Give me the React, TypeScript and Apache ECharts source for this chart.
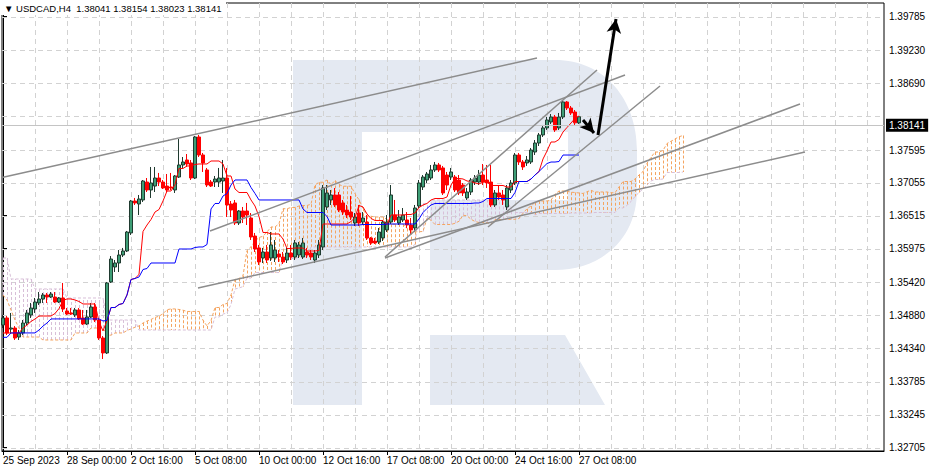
import React, { useEffect, useRef } from "react";
import * as echarts from "echarts";

// [open, close, low, high] per H4 bar, bar 0 = 25 Sep 2023 08:00
const candles: number[][] = [
  [1.3472, 1.34836, 1.34671, 1.34885], [1.34836, 1.34589, 1.34556, 1.34868], [1.34654, 1.34671, 1.34589, 1.34918],
  [1.34671, 1.34507, 1.34474, 1.34703], [1.34523, 1.34589, 1.34474, 1.34638], [1.34589, 1.34753, 1.34556, 1.34802],
  [1.34753, 1.34918, 1.3472, 1.34967], [1.34885, 1.35, 1.34836, 1.35082], [1.34983, 1.35098, 1.34918, 1.35164],
  [1.35082, 1.35147, 1.35049, 1.35262], [1.35147, 1.35213, 1.35082, 1.35246], [1.35213, 1.3518, 1.35082, 1.35246],
  [1.3518, 1.35229, 1.35164, 1.35262], [1.3518, 1.35098, 1.35082, 1.35262], [1.35098, 1.35164, 1.35082, 1.3518],
  [1.35164, 1.34983, 1.34934, 1.35411], [1.34951, 1.34901, 1.34885, 1.35], [1.34918, 1.34901, 1.34885, 1.35],
  [1.34885, 1.34967, 1.34852, 1.35], [1.34967, 1.34819, 1.34802, 1.35], [1.34836, 1.34736, 1.3472, 1.34967],
  [1.34736, 1.34852, 1.3472, 1.34967], [1.34852, 1.35016, 1.34836, 1.35082], [1.35016, 1.34802, 1.34769, 1.35082],
  [1.34802, 1.34507, 1.34474, 1.34836], [1.34507, 1.34261, 1.34162, 1.34539], [1.34261, 1.35411, 1.34244, 1.35427],
  [1.35427, 1.35804, 1.35411, 1.35853], [1.35673, 1.35739, 1.35591, 1.35788], [1.35739, 1.3587, 1.35591, 1.35952],
  [1.3587, 1.35936, 1.35837, 1.35986], [1.35936, 1.36248, 1.35919, 1.36265], [1.36232, 1.36757, 1.36199, 1.36774],
  [1.36757, 1.36725, 1.36692, 1.36807], [1.36708, 1.3679, 1.36527, 1.36856], [1.36774, 1.37086, 1.36741, 1.37102],
  [1.37069, 1.36938, 1.36905, 1.37135], [1.36938, 1.37053, 1.36807, 1.37316], [1.37003, 1.37135, 1.36905, 1.37316],
  [1.37135, 1.37069, 1.37003, 1.37218], [1.37069, 1.36971, 1.36954, 1.37102], [1.37003, 1.36938, 1.36905, 1.37201],
  [1.36987, 1.36971, 1.36938, 1.37218], [1.36938, 1.37168, 1.36889, 1.37184], [1.37151, 1.37349, 1.37135, 1.37776],
  [1.37349, 1.37398, 1.373, 1.3748], [1.37431, 1.37365, 1.37316, 1.37529], [1.37382, 1.37135, 1.37102, 1.37431],
  [1.37135, 1.37809, 1.37118, 1.37825], [1.37809, 1.37513, 1.3748, 1.37842], [1.37513, 1.37382, 1.37234, 1.37546],
  [1.37267, 1.3702, 1.36987, 1.373], [1.37069, 1.37003, 1.36987, 1.37102], [1.37069, 1.37118, 1.36987, 1.37168],
  [1.37069, 1.37135, 1.36987, 1.373], [1.37086, 1.37135, 1.36889, 1.37431], [1.37135, 1.36692, 1.36494, 1.373],
  [1.36708, 1.36609, 1.36494, 1.36757], [1.36725, 1.36396, 1.36363, 1.36774], [1.36396, 1.36593, 1.36363, 1.36609],
  [1.36593, 1.36494, 1.36396, 1.36659], [1.36593, 1.36527, 1.36363, 1.36725], [1.36478, 1.36166, 1.36117, 1.3656],
  [1.36182, 1.35969, 1.35919, 1.36232], [1.35986, 1.35755, 1.35706, 1.36035], [1.35821, 1.35919, 1.35739, 1.35986],
  [1.35919, 1.35788, 1.35739, 1.36035], [1.35821, 1.36035, 1.35772, 1.36248], [1.35821, 1.35952, 1.35755, 1.36117],
  [1.35886, 1.35837, 1.35755, 1.35952], [1.35837, 1.35755, 1.35722, 1.35919], [1.35788, 1.35903, 1.35739, 1.35986],
  [1.35903, 1.35837, 1.35788, 1.36035], [1.35837, 1.36068, 1.35788, 1.36117], [1.3587, 1.36035, 1.35821, 1.36084],
  [1.35837, 1.36068, 1.35804, 1.3615], [1.35919, 1.3587, 1.35821, 1.35986], [1.35903, 1.35837, 1.35788, 1.35952],
  [1.35788, 1.35903, 1.35739, 1.35952], [1.3587, 1.36035, 1.35821, 1.36117], [1.36002, 1.36971, 1.35952, 1.3702],
  [1.36659, 1.36889, 1.36609, 1.3702], [1.36774, 1.36856, 1.36692, 1.36938], [1.36856, 1.36692, 1.36659, 1.36971],
  [1.36856, 1.36609, 1.36576, 1.36905], [1.36725, 1.36576, 1.36527, 1.36774], [1.36609, 1.36527, 1.36478, 1.36692],
  [1.36576, 1.36494, 1.36445, 1.3684], [1.36396, 1.36494, 1.36347, 1.3656], [1.3656, 1.36396, 1.36347, 1.36692],
  [1.36412, 1.36478, 1.36363, 1.36576], [1.36412, 1.3615, 1.36117, 1.36527], [1.3615, 1.36068, 1.36035, 1.36166],
  [1.361, 1.36068, 1.36051, 1.3615], [1.36084, 1.36248, 1.36051, 1.36314], [1.3615, 1.36412, 1.361, 1.36445],
  [1.36281, 1.36412, 1.36248, 1.36527], [1.36412, 1.36856, 1.3638, 1.3702], [1.36527, 1.36445, 1.36412, 1.36774],
  [1.36396, 1.36494, 1.36363, 1.36609], [1.36445, 1.36527, 1.36412, 1.36642], [1.36445, 1.36363, 1.36314, 1.36576],
  [1.36363, 1.36281, 1.36199, 1.36478], [1.36314, 1.36642, 1.36248, 1.36692], [1.36675, 1.37053, 1.36642, 1.37102],
  [1.36987, 1.37151, 1.36938, 1.37184], [1.37102, 1.37201, 1.37053, 1.37234], [1.37135, 1.37267, 1.37102, 1.37349],
  [1.37267, 1.37349, 1.37234, 1.37398], [1.37349, 1.37267, 1.37234, 1.37382], [1.373, 1.36889, 1.36856, 1.37333],
  [1.37184, 1.3702, 1.36938, 1.37234], [1.37151, 1.37234, 1.37102, 1.373], [1.37151, 1.36938, 1.36905, 1.37184],
  [1.37102, 1.36889, 1.36856, 1.37184], [1.3702, 1.36889, 1.3684, 1.37053], [1.36807, 1.36905, 1.36774, 1.36971],
  [1.36905, 1.37102, 1.36856, 1.37135], [1.37069, 1.37135, 1.3702, 1.37184], [1.37069, 1.37184, 1.3702, 1.37267],
  [1.37184, 1.37069, 1.3702, 1.37365], [1.37102, 1.37053, 1.36971, 1.37349], [1.37069, 1.36692, 1.36659, 1.37349],
  [1.36692, 1.36889, 1.36659, 1.36938], [1.36889, 1.36823, 1.36774, 1.3702], [1.36856, 1.36774, 1.36692, 1.36938],
  [1.36659, 1.36971, 1.36609, 1.3702], [1.36938, 1.37053, 1.36889, 1.37102], [1.37053, 1.37513, 1.3702, 1.37546],
  [1.37513, 1.37398, 1.37349, 1.37546], [1.37398, 1.37316, 1.37267, 1.37431], [1.37382, 1.37431, 1.37333, 1.37496],
  [1.37398, 1.37595, 1.37365, 1.37628], [1.37562, 1.3771, 1.37513, 1.37759], [1.3771, 1.37842, 1.37661, 1.37875],
  [1.37842, 1.37957, 1.37809, 1.38006], [1.37957, 1.38088, 1.37924, 1.38137], [1.38055, 1.38137, 1.38022, 1.38186],
  [1.38137, 1.37924, 1.37891, 1.3817], [1.37957, 1.38137, 1.37924, 1.38203], [1.38137, 1.38384, 1.38104, 1.38416],
  [1.38384, 1.38285, 1.38252, 1.384], [1.38285, 1.38203, 1.3817, 1.38318], [1.38219, 1.38041, 1.38006, 1.38252],
  [1.38041, 1.38141, 1.38023, 1.38154],
];

const tenkanHead = [1.34589, 1.34589, 1.34589, 1.34589, 1.34589, 1.34671, 1.3472, 1.34778];
const kijunHeadRuns: [number, number][] = [[2, 1.34518], [7, 1.3459], [1, 1.34638], [1, 1.34703], [1, 1.34753], [13, 1.3482]];
const spanAHeadRuns: [number, number][] = [[1, 1.35213], [1, 1.35131], [1, 1.34967], [1, 1.34802], [1, 1.34671], [5, 1.34523], [8, 1.34474], [4, 1.34589], [4, 1.34671]];
const spanBHeadRuns: [number, number][] = [
  [2, 1.35821], [6, 1.35476], [8, 1.35312], [10, 1.35164], [8, 1.34802], [19, 1.34638], [2, 1.34851], [1, 1.349],
  [1, 1.34918], [1, 1.35057], [1, 1.35312], [1, 1.35328], [1, 1.35352], [2, 1.35492], [7, 1.35582], [4, 1.35812], [3, 1.35837],
];

const xTickIdx = [0, 16, 32, 48, 64, 80, 96, 112, 128, 144];
const xTickText = ["25 Sep 2023", "28 Sep 00:00", "2 Oct 16:00", "5 Oct 08:00", "10 Oct 00:00", "12 Oct 16:00", "17 Oct 08:00", "20 Oct 00:00", "24 Oct 16:00", "27 Oct 08:00"];
const xGridIdx = [8, 16, 24, 32, 40, 48, 56, 64, 72, 80, 88, 96, 104, 112, 120, 128, 136, 144, 152, 160, 168, 176, 184, 192, 200, 208, 216];
const yTickValues = [1.39785, 1.3923, 1.3869, 1.37595, 1.37055, 1.36515, 1.35975, 1.3542, 1.3488, 1.3434, 1.33785, 1.33245, 1.32705];
const yGridValues = [1.39785, 1.3923, 1.3869, 1.3815, 1.37595, 1.37055, 1.36515, 1.35975, 1.3542, 1.3488, 1.3434, 1.33785, 1.33245, 1.32705];
const lastPrice = 1.38141;
const titleText = "\u25BC USDCAD,H4  1.38041 1.38154 1.38023 1.38141";

// trend lines: [bar1, price1, bar2, price2]
const trendLines: number[][] = [
  [-0.25, 1.37142, 133.5, 1.39106],
  [51.75, 1.36265, 155.5, 1.38827],
  [121.25, 1.3633, 164.25, 1.38646],
  [48.75, 1.35328, 200.5, 1.37562],
  [95.5, 1.35821, 199.25, 1.38351],
  [95.5, 1.35837, 148.5, 1.38909],
];
const arrows: number[][] = [
  [145, 1.38088, 147.75, 1.37874],
  [148.75, 1.37842, 153.25, 1.39747],
];

const X_MIN = -0.25;
const X_MAX = 220.25;
const Y_MIN = 1.326505;
const Y_MAX = 1.400098;

const R_PATH =
  "M293,60 L555,60 C605,60 637,100 637,150 L637,190 C637,240 600,270 555,270 L430,270 L430,200 L568,200 L568,132 L362,132 L362,405 L293,405 Z " +
  "M430,335 L565,335 L605,405 L430,405 Z";
try {
  echarts.graphic.registerShape("rLogo", (echarts.graphic as any).extendPath(R_PATH, {}));
} catch (e) {}

function expand(runs: [number, number][]): number[] {
  const out: number[] = [];
  runs.forEach(([n, v]) => { for (let k = 0; k < n; k++) out.push(v); });
  return out;
}
function midRange(from: number, to: number): number {
  let h = -Infinity, l = Infinity;
  for (let k = from; k <= to; k++) { h = Math.max(h, candles[k][3]); l = Math.min(l, candles[k][2]); }
  return (h + l) / 2;
}

export default function App() {
  const ref = useRef<HTMLDivElement>(null);
  useEffect(() => {
    if (!ref.current) return;
    const chart = echarts.init(ref.current, null, { renderer: "svg" });
    const n = candles.length;
    const kijunHead = expand(kijunHeadRuns);
    const spanAHead = expand(spanAHeadRuns);
    const spanBHead = expand(spanBHeadRuns);
    const tenkan: number[] = [];
    const kijun: number[] = [];
    for (let i = 0; i < n; i++) {
      tenkan.push(i < 8 ? tenkanHead[i] : midRange(i - 8, i));
      kijun.push(i < 25 ? kijunHead[i] : midRange(i - 25, i));
    }
    const spanA: number[] = [];
    const spanB: number[] = [];
    for (let i = 0; i < n + 26; i++) {
      spanA.push(i < 26 ? spanAHead[i] : (tenkan[i - 26] + kijun[i - 26]) / 2);
      spanB.push(i < 77 ? spanBHead[i] : midRange(i - 77, i - 26));
    }
    const font = "Liberation Sans, Arial, sans-serif";

    const option: any = {
      animation: false,
      backgroundColor: "#ffffff",
      grid: { left: 2, right: 47, top: 3, bottom: 20, show: true, borderColor: "#000", borderWidth: 1, backgroundColor: "transparent", containLabel: false, outerBoundsMode: "none" },
      xAxis: {
        type: "value", min: X_MIN, max: X_MAX, position: "bottom",
        axisLine: { show: true, lineStyle: { color: "#000", width: 1 } },
        axisTick: { show: true, length: 4, customValues: xTickIdx, lineStyle: { color: "#000" } },
        splitLine: { show: false },
        axisLabel: {
          customValues: xTickIdx, align: "left", margin: 4, color: "#000", fontSize: 10, fontFamily: font,
          formatter: (v: number) => { const k = xTickIdx.indexOf(Math.round(v)); return k >= 0 ? xTickText[k] : ""; },
        },
      },
      yAxis: {
        type: "value", min: Y_MIN, max: Y_MAX, position: "right", scale: true,
        axisLine: { show: true, lineStyle: { color: "#000", width: 1 } },
        axisTick: { show: true, length: 4, customValues: yTickValues, lineStyle: { color: "#000" } },
        splitLine: { show: false },
        axisLabel: { customValues: yTickValues, align: "left", margin: 5, color: "#000", fontSize: 10, fontFamily: font, formatter: (v: number) => v.toFixed(5) },
      },
      graphic: [
        { type: "rLogo", x: 0, y: 0, z: -10, silent: true, style: { fill: "#E4E9F2" } },
        { type: "rect", z: 100, silent: true, shape: { x: 0, y: 0, width: 226, height: 15 }, style: { fill: "#fff" } },
        { type: "text", z: 101, silent: true, x: 4, y: 8, style: { text: titleText, fill: "#000", font: `9.5px ${font}`, verticalAlign: "middle" } },
      ],
      series: [
        {
          type: "custom", name: "hgrid", silent: true, clip: false, z: 1,
          data: yGridValues.map((v) => [0, v]), encode: { x: 0, y: 1 },
          renderItem: (params: any, api: any) => {
            const cs = params.coordSys;
            const p = api.coord([0, api.value(1)]);
            const y = Math.round(p[1]) + 0.5;
            return { type: "line", shape: { x1: cs.x, y1: y, x2: cs.x + cs.width, y2: y }, style: { stroke: "#D2D2D2", lineDash: [5, 4], lineWidth: 1 } };
          },
        },
        {
          type: "custom", name: "vgrid", silent: true, clip: false, z: 1,
          data: xGridIdx.map((v) => [v, Y_MIN]), encode: { x: 0, y: 1 },
          renderItem: (params: any, api: any) => {
            const cs = params.coordSys;
            const p = api.coord([api.value(0), Y_MIN]);
            const x = Math.round(p[0]) + 0.5;
            return { type: "line", shape: { x1: x, y1: cs.y, x2: x, y2: cs.y + cs.height }, style: { stroke: "#D2D2D2", lineDash: [5, 4], lineWidth: 1 } };
          },
        },
        {
          type: "custom", name: "kumo", silent: true, clip: true, z: 2,
          data: spanA.map((a, i) => [i, a, spanB[i]]), encode: { x: 0, y: [1, 2] },
          renderItem: (params: any, api: any) => {
            const i = api.value(0), a = api.value(1), b = api.value(2);
            const pa = api.coord([i, a]);
            const pb = api.coord([i, b]);
            const x = Math.round(pa[0]) + 0.5;
            return { type: "line", shape: { x1: x, y1: pa[1], x2: x, y2: pb[1] }, style: { stroke: a >= b ? "#F4A460" : "#D8BFD8", lineDash: [3, 2], lineWidth: 1 } };
          },
        },
        {
          type: "line", name: "Senkou A", silent: true, showSymbol: false, symbol: "none", z: 2,
          data: spanA.map((v, i) => [i, v]), lineStyle: { color: "#F4A460", width: 1, type: [3, 2] },
        },
        {
          type: "line", name: "Senkou B", silent: true, showSymbol: false, symbol: "none", z: 2,
          data: spanB.map((v, i) => [i, v]), lineStyle: { color: "#D8BFD8", width: 1, type: [3, 2] },
        },
        {
          type: "candlestick", name: "USDCAD", silent: true, z: 3, barWidth: 3,
          data: candles.map((c, i) => [i, c[0], c[1], c[2], c[3]]), encode: { x: 0, y: [1, 2, 3, 4] },
          itemStyle: { color: "#3E9E76", color0: "#FF0000", borderColor: "#1F3A2F", borderColor0: "#FF0000", borderWidth: 1 },
          markLine: {
            silent: true, symbol: ["none", "none"], animation: false,
            lineStyle: { color: "#C4C4C4", width: 1, type: "solid" },
            label: { show: true, position: "end", distance: 2, formatter: lastPrice.toFixed(5), color: "#fff", backgroundColor: "#000", padding: [2, 3, 1, 3], fontSize: 10, fontFamily: font },
            data: [{ yAxis: lastPrice }],
          },
        },
        {
          type: "line", name: "Tenkan", silent: true, showSymbol: false, symbol: "none", z: 4,
          data: tenkan.map((v, i) => [i, v]), lineStyle: { color: "#FF0000", width: 1 },
          markLine: {
            silent: true, symbol: ["none", "none"], animation: false, label: { show: false },
            lineStyle: { color: "#8C8C8C", width: 1.5, type: "solid" },
            data: trendLines.map((t) => [{ coord: [t[0], t[1]] }, { coord: [t[2], t[3]] }]),
          },
        },
        {
          type: "line", name: "Kijun", silent: true, showSymbol: false, symbol: "none", z: 4,
          data: kijun.map((v, i) => [i, v]), lineStyle: { color: "#0000FF", width: 1 },
          markLine: {
            silent: true, symbol: ["none", "arrow"], symbolSize: [11, 14], animation: false, label: { show: false },
            lineStyle: { color: "#000", width: 3, type: "solid" },
            data: arrows.map((t) => [{ coord: [t[0], t[1]] }, { coord: [t[2], t[3]] }]),
          },
        },
      ],
    };
    chart.setOption(option);
    return () => chart.dispose();
  }, []);
  return <div ref={ref} style={{ position: "fixed", left: 0, top: 0, width: 931, height: 471, background: "#fff" }} />;
}
